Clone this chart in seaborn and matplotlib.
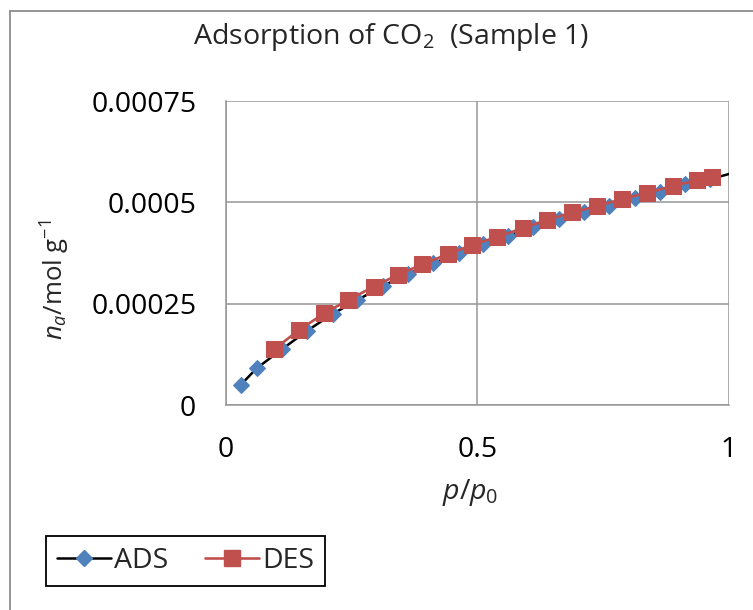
import matplotlib
matplotlib.use("Agg")
import matplotlib.pyplot as plt
import seaborn as sns
import pandas as pd
from matplotlib.lines import Line2D

# ---- data ----
ads_x = [0.030, 0.062, 0.112, 0.162, 0.213, 0.262, 0.313, 0.362, 0.413, 0.464,
         0.512, 0.562, 0.611, 0.663, 0.713, 0.762, 0.813, 0.863, 0.913, 0.962, 1.03]
ads_y = [0.0000494, 0.0000906, 0.0001375, 0.000183, 0.000225, 0.000259, 0.000294,
         0.000323, 0.000350, 0.000374, 0.000397, 0.000417, 0.000440, 0.000458,
         0.000475, 0.000491, 0.000511, 0.000526, 0.000545, 0.000557, 0.000580]
des_x = [0.097, 0.146, 0.196, 0.244, 0.294, 0.342, 0.391, 0.441, 0.490, 0.540,
         0.590, 0.639, 0.689, 0.738, 0.788, 0.838, 0.888, 0.937, 0.967]
des_y = [0.000138, 0.000185, 0.000226, 0.000259, 0.000292, 0.000321, 0.000347,
         0.000372, 0.000395, 0.000415, 0.000436, 0.000457, 0.000475, 0.000491,
         0.000508, 0.000524, 0.000540, 0.000555, 0.000563]
series_names = ["ADS", "DES"]
x_ticks = [0, 0.5, 1]
x_tick_labels = ["0", "0.5", "1"]
y_ticks = [0, 0.00025, 0.0005, 0.00075]
y_tick_labels = ["0", "0.00025", "0.0005", "0.00075"]
title = r"Adsorption of $\mathrm{CO_2}$  (Sample 1)"
x_label = r"$p$/$p_0$"
y_label = r"$n_a$/mol g$^{\mathrm{-1}}$"

sns.set_theme(style="white")
FONT = "Open Sans"
plt.rcParams["font.family"] = [FONT, "DejaVu Sans"]
plt.rcParams["mathtext.fontset"] = "custom"
plt.rcParams["mathtext.rm"] = FONT
plt.rcParams["mathtext.it"] = FONT + ":italic"
plt.rcParams["mathtext.bf"] = FONT + ":bold"

W, H = 753, 610
fig = plt.figure(figsize=(W / 100, H / 100), dpi=100)
fig.patch.set_facecolor("white")

left, right, top, bottom = 225.5, 729, 101, 405
ax = fig.add_axes([left / W, 1 - bottom / H, (right - left) / W, (bottom - top) / H])

ads = pd.DataFrame({"x": ads_x, "y": ads_y})
des = pd.DataFrame({"x": des_x, "y": des_y})

BLUE = "#4F81BD"
RED = "#C0504D"
GRID = "#969696"

sns.lineplot(data=ads, x="x", y="y", ax=ax, color="black", linewidth=1.8,
             marker="D", markersize=8, markerfacecolor=BLUE, markeredgecolor=BLUE,
             sort=True, estimator=None, zorder=3)
sns.lineplot(data=des, x="x", y="y", ax=ax, color=RED, linewidth=1.9,
             marker="s", markersize=11.5, markerfacecolor=RED, markeredgecolor=RED,
             sort=True, estimator=None, zorder=4)

ax.set_xlim(0, 1)
ax.set_ylim(0, 0.00075)
ax.set_xticks(x_ticks)
ax.set_xticklabels(x_tick_labels)
ax.set_yticks(y_ticks)
ax.set_yticklabels(y_tick_labels)
ax.grid(True, color=GRID, linewidth=1.1)
ax.set_axisbelow(True)
for s in ["top", "right"]:
    ax.spines[s].set_visible(False)
for s in ["left", "bottom"]:
    ax.spines[s].set_color(GRID)
    ax.spines[s].set_linewidth(1.1)
ax.tick_params(axis="both", which="major", direction="out", length=7, width=1.1,
               color=GRID, labelsize=20.5, labelcolor="black")
ax.tick_params(axis="y", pad=14)
ax.tick_params(axis="x", pad=15)
ax.set_xlabel("")
ax.set_ylabel("")

fig.text(391 / W, 1 - 37 / H, title, ha="center", va="center", fontsize=20.5)
fig.text(470 / W, 1 - 493 / H, x_label, ha="center", va="center", fontsize=20.5)
fig.text(55 / W, 1 - 280 / H, y_label, ha="center", va="center", fontsize=18.5, rotation=90)

handles = [
    Line2D([], [], color="black", linewidth=1.8, marker="D", markersize=8,
           markerfacecolor=BLUE, markeredgecolor=BLUE),
    Line2D([], [], color=RED, linewidth=1.9, marker="s", markersize=11.5,
           markerfacecolor=RED, markeredgecolor=RED),
]
leg = fig.legend(handles, series_names, loc="center",
                 bbox_to_anchor=((45 + 326) / 2 / W, 1 - (533 + 589) / 2 / H),
                 ncol=2, fontsize=20.5, frameon=True, fancybox=False,
                 handlelength=1.9, handletextpad=0.1, columnspacing=1.3,
                 borderpad=0.4, edgecolor="black", framealpha=1)
leg.get_frame().set_linewidth(1.3)

# outer chart frame (top and left edges visible)
fig.add_artist(Line2D([10 / W, 1], [1 - 11 / H, 1 - 11 / H], color="#8c8c8c",
                      linewidth=1.3, transform=fig.transFigure))
fig.add_artist(Line2D([10 / W, 10 / W], [0, 1 - 11 / H], color="#8c8c8c",
                      linewidth=1.3, transform=fig.transFigure))

fig.savefig("out.png", dpi=100)
